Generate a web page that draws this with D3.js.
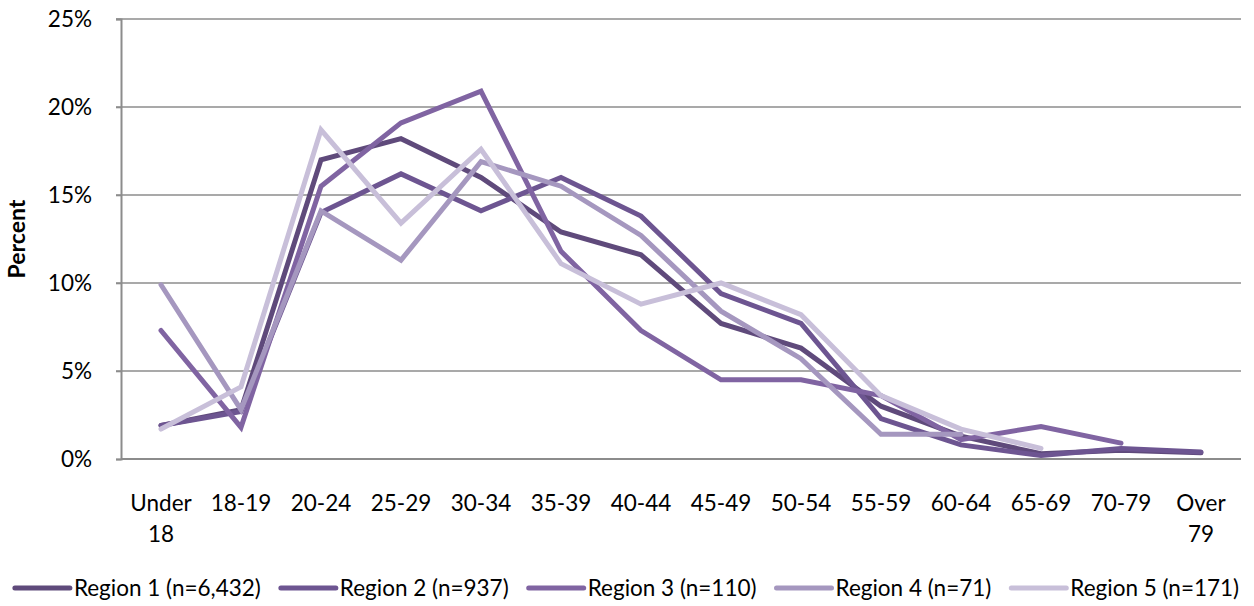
<!DOCTYPE html>
<html>
<head>
<meta charset="utf-8">
<script src="https://cdn.jsdelivr.net/npm/d3@7/dist/d3.min.js"></script>
<style>
  html, body { margin: 0; padding: 0; background: #fff; }
  svg { display: block; font-family: Lato, "Open Sans", sans-serif; }
</style>
</head>
<body>
<svg id="chart" width="1254" height="606"></svg>
<script>
// Age groups along the x axis (each label may wrap to two lines)
const categories = ["Under 18", "18-19", "20-24", "25-29", "30-34", "35-39", "40-44",
                    "45-49", "50-54", "55-59", "60-64", "65-69", "70-79", "Over 79"];

// Share of each region's people in each age group, in percent (null = no data)
const region1 = [1.9, 2.8, 17.0, 18.2, 16.0, 12.9, 11.6, 7.7, 6.3, 3.0, 1.3, 0.3, 0.5, 0.35];
const region2 = [1.9, 2.7, 14.0, 16.2, 14.1, 16.0, 13.8, 9.4, 7.7, 2.3, 0.8, 0.2, 0.6, 0.4];
const region3 = [7.3, 1.8, 15.5, 19.1, 20.9, 11.8, 7.3, 4.5, 4.5, 3.6, 1.1, 1.85, 0.9, null];
const region4 = [9.9, 2.8, 14.1, 11.3, 16.9, 15.5, 12.7, 8.4, 5.7, 1.4, 1.4, null, null, null];
const region5 = [1.7, 4.1, 18.7, 13.4, 17.6, 11.1, 8.8, 10.0, 8.2, 3.6, 1.7, 0.6, null, null];

const seriesNames = ["Region 1 (n=6,432)", "Region 2 (n=937)", "Region 3 (n=110)",
                     "Region 4 (n=71)", "Region 5 (n=171)"];
const seriesValues = [region1, region2, region3, region4, region5];
const seriesColors = ["#5f4a7b", "#6d5591", "#8064a2", "#a597bf", "#c8bfd9"];

const yTicks = [0, 5, 10, 15, 20, 25];

const svg = d3.select("#chart");
const plot = { left: 121, right: 1241, top: 19, bottom: 459 };

const x = d3.scalePoint().domain(categories).range([plot.left, plot.right]).padding(0.5);
const y = d3.scaleLinear().domain([0, 25]).range([plot.bottom, plot.top]);

const gridColor = "#8c8c8c";
const fontSize = 22.5;

// Horizontal gridlines
svg.append("g")
  .selectAll("line")
  .data(yTicks.filter(d => d > 0))
  .join("line")
  .attr("x1", plot.left - 5).attr("x2", plot.right)
  .attr("y1", d => y(d)).attr("y2", d => y(d))
  .attr("stroke", gridColor).attr("stroke-width", 1.6);

// Y axis with percent labels
const yAxis = svg.append("g")
  .attr("transform", `translate(${plot.left},0)`)
  .call(d3.axisLeft(y).tickValues(yTicks).tickFormat(d => d + "%").tickSize(5).tickPadding(24));
yAxis.select(".domain").attr("stroke", gridColor).attr("stroke-width", 2);
yAxis.selectAll(".tick line").attr("stroke", gridColor).attr("stroke-width", 1.6);
yAxis.selectAll(".tick text")
  .attr("font-size", fontSize).attr("fill", "#000")
  .attr("font-family", "Lato, sans-serif");

// X axis baseline
svg.append("line")
  .attr("x1", plot.left).attr("x2", plot.right)
  .attr("y1", plot.bottom).attr("y2", plot.bottom)
  .attr("stroke", gridColor).attr("stroke-width", 2.2);

// Category labels, wrapped at the space for two-word labels
const xLabels = svg.append("g")
  .selectAll("text")
  .data(categories)
  .join("text")
  .attr("x", d => x(d))
  .attr("y", 511)
  .attr("text-anchor", "middle")
  .attr("font-size", fontSize)
  .attr("fill", "#000");
xLabels.each(function(d) {
  const parts = d.includes(" ") ? d.split(" ") : [d];
  d3.select(this).selectAll("tspan")
    .data(parts)
    .join("tspan")
    .attr("x", x(d))
    .attr("dy", (p, i) => i === 0 ? 0 : 31)
    .text(p => p);
});

// Y axis title
svg.append("text")
  .attr("transform", `translate(25,${(plot.top + plot.bottom) / 2}) rotate(-90)`)
  .attr("text-anchor", "middle")
  .attr("font-size", 23)
  .attr("font-weight", "bold")
  .attr("fill", "#000")
  .text("Percent");

// Series lines
const line = d3.line()
  .defined(d => d.v !== null)
  .x(d => x(d.c))
  .y(d => y(d.v));

svg.append("g")
  .selectAll("path")
  .data(seriesValues.map((vals, i) => ({ i, pts: vals.map((v, k) => ({ c: categories[k], v })) })))
  .join("path")
  .attr("d", d => line(d.pts))
  .attr("fill", "none")
  .attr("stroke", d => seriesColors[d.i])
  .attr("stroke-width", 5)
  .attr("stroke-linejoin", "miter")
  .attr("stroke-linecap", "round");

// Legend along the bottom, laid out from measured text widths
const legend = svg.append("g");
const symbolW = 55, textGap = 4, itemGap = 20, legendY = 588;
const items = legend.selectAll("g")
  .data(seriesNames)
  .join("g");
items.append("line")
  .attr("x1", 0).attr("x2", symbolW)
  .attr("y1", 0).attr("y2", 0)
  .attr("stroke", (d, i) => seriesColors[i])
  .attr("stroke-width", 5)
  .attr("stroke-linecap", "round");
items.append("text")
  .attr("x", symbolW + textGap)
  .attr("y", 8)
  .attr("font-size", fontSize)
  .attr("fill", "#000")
  .text(d => d);
const widths = [];
items.each(function() {
  widths.push(symbolW + textGap + this.querySelector("text").getComputedTextLength());
});
const total = d3.sum(widths) + itemGap * (widths.length - 1);
let cursor = (1254 - total) / 2;
items.each(function(d, i) {
  d3.select(this).attr("transform", `translate(${cursor},${legendY})`);
  cursor += widths[i] + itemGap;
});
</script>
</body>
</html>
